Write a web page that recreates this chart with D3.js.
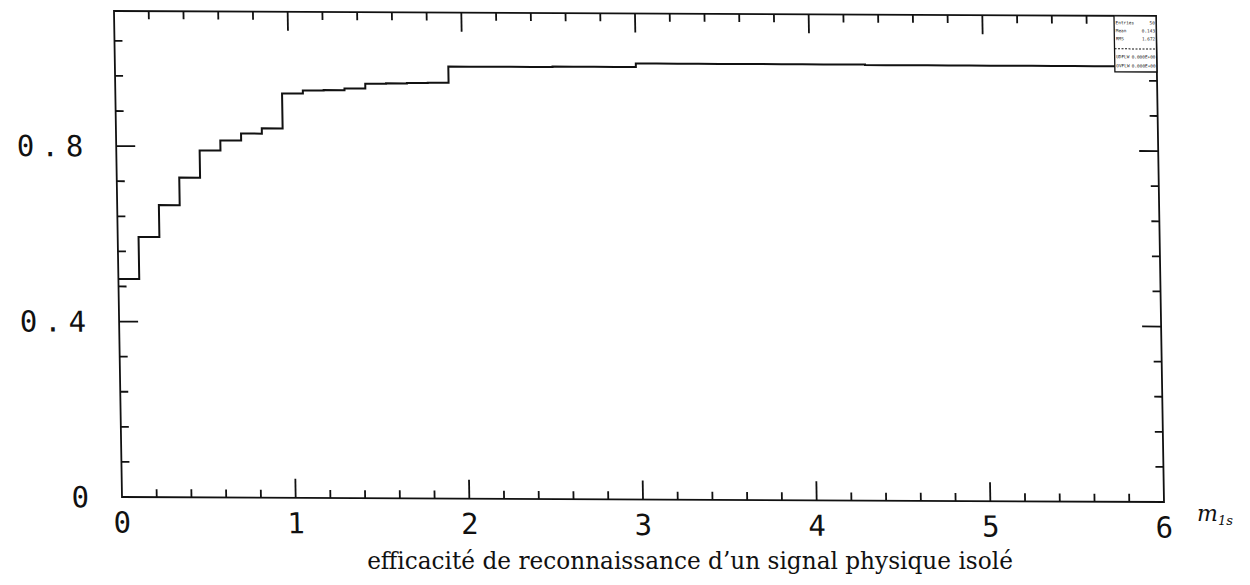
<!DOCTYPE html>
<html><head><meta charset="utf-8">
<script src="https://cdn.jsdelivr.net/npm/d3@7"></script>
<style>
body{margin:0;background:#fff}
svg{display:block}
</style>
</head><body>
<svg id="chart" width="1250" height="585"></svg>
<script>
// ---------------- data ----------------
const binWidth = 0.12;           // 50 bins over [0, 6]
const efficiency = [
  0.497, 0.593, 0.666, 0.729, 0.791, 0.814, 0.830, 0.842, 0.922, 0.929,
  0.930, 0.934, 0.945, 0.946, 0.947, 0.948, 0.985, 0.985, 0.985, 0.985,
  0.985, 0.986, 0.986, 0.986, 0.986, 0.994, 0.994, 0.994, 0.994, 0.994,
  0.994, 0.994, 0.994, 0.994, 0.994, 0.994, 0.993, 0.993, 0.993, 0.993,
  0.993, 0.993, 0.993, 0.993, 0.993, 0.993, 0.993, 0.993, 0.993, 0.993
];
const xDomain = [0, 6];
const yDomain = [0, 1.108];
const xMajorTicks = [0, 1, 2, 3, 4, 5, 6];
const xTickLabels = ["0", "1", "2", "3", "4", "5", "6"];
const yMajorTicks = [0, 0.4, 0.8];
const yTickLabels = ["0", "0.4", "0.8"];
const statsLabels = ["Entries", "Mean", "RMS", "UDFLW", "OVFLW"];
const statsValues = ["50", "0.143", "1.672", "0.000E+00", "0.000E+00"];
const caption = "efficacité de reconnaissance d’un signal physique isolé";
const axisName = "m";
const axisNameSub = "1s";

// ---------------- layout ----------------
const svg = d3.select("#chart");
const X0 = 122, X1 = 1164, Y0 = 497, Y1 = 11;
const x = d3.scaleLinear().domain(xDomain).range([X0, X1]);
const y = d3.scaleLinear().domain(yDomain).range([Y0, Y1]);

// scanned page is slightly sheared
const shearX = 0.0165, shearY = 0.0048;
const g = svg.append("g")
  .attr("transform", `translate(${X0},${Y0}) matrix(1,${shearY},${shearX},1,0,0) translate(${-X0},${-Y0})`);

const ink = "#111";
const sw = 1.8;

// frame
g.append("rect")
  .attr("x", x(0)).attr("y", y(yDomain[1]))
  .attr("width", x(6) - x(0)).attr("height", y(0) - y(yDomain[1]))
  .attr("fill", "none").attr("stroke", ink).attr("stroke-width", sw);

// ticks
const xMinor = d3.range(1, 30).filter(i => i % 5 !== 0).map(i => i / 5);
const yMinor = d3.range(1, 14).filter(i => i % 5 !== 0).map(i => i * 0.08);
const majorLen = 19, minorLen = 8;
const tickG = g.append("g").attr("stroke", ink).attr("stroke-width", sw);

function vTicks(vals, len) {
  vals.forEach(v => {
    tickG.append("line").attr("x1", x(v)).attr("x2", x(v))
      .attr("y1", y(0)).attr("y2", y(0) - len);
    tickG.append("line").attr("x1", x(v)).attr("x2", x(v))
      .attr("y1", y(yDomain[1])).attr("y2", y(yDomain[1]) + len);
  });
}
function hTicks(vals, len) {
  vals.forEach(v => {
    tickG.append("line").attr("x1", x(0)).attr("x2", x(0) + len)
      .attr("y1", y(v)).attr("y2", y(v));
    tickG.append("line").attr("x1", x(6)).attr("x2", x(6) - len)
      .attr("y1", y(v)).attr("y2", y(v));
  });
}
vTicks(xMajorTicks.slice(1, -1), majorLen);
vTicks(xMinor, minorLen);
hTicks(yMajorTicks.slice(1), majorLen);
hTicks(yMinor, minorLen);

// step curve
const pts = efficiency.map((v, i) => [i * binWidth, v]);
pts.push([xDomain[1], efficiency[efficiency.length - 1]]);
const line = d3.line().x(d => x(d[0])).y(d => y(d[1])).curve(d3.curveStepAfter);
g.append("path").attr("d", line(pts))
  .attr("fill", "none").attr("stroke", ink).attr("stroke-width", 2)
  .attr("stroke-linejoin", "miter");

// stats box
const boxW = 42, boxX = x(6) - boxW, boxTop = y(yDomain[1]);
const stat = g.append("g");
stat.append("rect").attr("x", boxX).attr("y", boxTop).attr("width", boxW).attr("height", 56)
  .attr("fill", "#fff").attr("stroke", ink).attr("stroke-width", 1.3);
stat.append("line").attr("x1", boxX).attr("x2", boxX + boxW)
  .attr("y1", boxTop + 33).attr("y2", boxTop + 33)
  .attr("stroke", ink).attr("stroke-width", 1).attr("stroke-dasharray", "2,1.5");
const rowsY = [7, 15, 23, 41, 50];
statsLabels.forEach((lab, i) => {
  stat.append("text").attr("x", boxX + 1.5).attr("y", boxTop + rowsY[i] + 1.5)
    .attr("font-family", "DejaVu Sans Mono").attr("font-size", 4.4).attr("fill", ink)
    .text(lab);
  stat.append("text").attr("x", boxX + boxW - 1.2).attr("y", boxTop + rowsY[i] + 1.5)
    .attr("text-anchor", "end")
    .attr("font-family", "DejaVu Sans Mono").attr("font-size", 4.4).attr("fill", ink)
    .text(statsValues[i]);
});

// tick labels (plotter style digits)
const labFont = "'DejaVu Sans Mono', monospace";
yMajorTicks.forEach((v, i) => {
  g.append("text")
    .attr("x", 96).attr("y", y(v)).attr("dy", "0.36em")
    .attr("text-anchor", "end")
    .attr("font-family", labFont).attr("font-size", 29)
    .attr("letter-spacing", "7px")
    .style("font-variant-numeric", "slashed-zero")
    .attr("fill", ink)
    .text(yTickLabels[i]);
});
xMajorTicks.forEach((v, i) => {
  g.append("text")
    .attr("x", x(v)).attr("y", 522).attr("dy", "0.36em")
    .attr("text-anchor", "middle")
    .attr("font-family", labFont).attr("font-size", 29)
    .style("font-variant-numeric", "slashed-zero")
    .attr("fill", ink)
    .text(xTickLabels[i]);
});

// axis name m_1s
const an = svg.append("text").attr("x", 1197).attr("y", 521)
  .attr("font-family", "'DejaVu Serif', serif").attr("font-size", 22).attr("fill", ink);
an.append("tspan").attr("font-style", "italic").text(axisName);
an.append("tspan").attr("dy", 4).attr("font-size", 13).attr("font-style", "italic").text(axisNameSub);

// caption
const cap = svg.append("text").attr("x", 690).attr("y", 569)
  .attr("text-anchor", "middle")
  .attr("font-family", "'DejaVu Serif', serif").attr("font-size", 20).attr("fill", ink)
  .text(caption);
const targetW = 646;
const w = cap.node().getComputedTextLength();
cap.attr("font-size", 20 * targetW / w);
</script>
</body></html>
